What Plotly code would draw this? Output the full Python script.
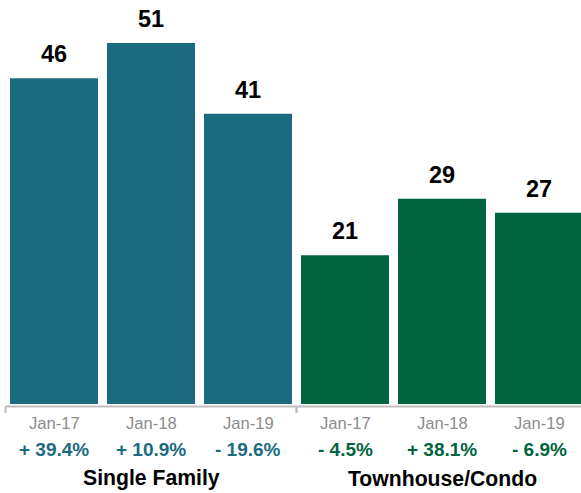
import plotly.graph_objects as go

# Data
groups = ["Single Family", "Townhouse/Condo"]
periods = ["Jan-17", "Jan-18", "Jan-19"]
single_family = [46, 51, 41]
townhouse_condo = [21, 29, 27]
sf_change = ["+ 39.4%", "+ 10.9%", "- 19.6%"]
tc_change = ["- 4.5%", "+ 38.1%", "- 6.9%"]

TEAL = "rgb(26,107,128)"
GREEN = "rgb(0,100,62)"
FONT = "Arial, Liberation Sans, Helvetica, sans-serif"

sf_x = list(range(len(periods)))
tc_x = [i + len(periods) for i in range(len(periods))]

fig = go.Figure()
fig.add_trace(go.Bar(x=sf_x, y=single_family, marker_color=TEAL, width=0.907,
                     marker_line_width=0, hoverinfo="skip"))
fig.add_trace(go.Bar(x=tc_x, y=townhouse_condo, marker_color=GREEN, width=0.907,
                     marker_line_width=0, hoverinfo="skip"))

annotations = []
shapes = []
series = [
    (sf_x, single_family, sf_change, TEAL, groups[0]),
    (tc_x, townhouse_condo, tc_change, GREEN, groups[1]),
]
for xs, vals, chg, col, name in series:
    for x, v, c, p in zip(xs, vals, chg, periods):
        # value above each bar
        annotations.append(dict(x=x, y=v, xref="x", yref="y", text=f"<b>{v}</b>",
                                showarrow=False, yanchor="middle", yshift=24,
                                font=dict(family=FONT, size=23.5, color="black")))
        # period label
        annotations.append(dict(x=x, y=0, xref="x", yref="paper", text=p,
                                showarrow=False, yanchor="middle", yshift=-19,
                                font=dict(family=FONT, size=16.6, color="rgb(140,140,140)")))
        # year-over-year change
        annotations.append(dict(x=x, y=0, xref="x", yref="paper", text=f"<b>{c}</b>",
                                showarrow=False, yanchor="middle", yshift=-45,
                                font=dict(family=FONT, size=19, color=col)))
    # group title under the middle bar
    annotations.append(dict(x=xs[1], y=0, xref="x", yref="paper", text=f"<b>{name}</b>",
                            showarrow=False, yanchor="middle", yshift=-74,
                            font=dict(family=FONT, size=21.2, color="black")))
    # bracket beneath the group
    left, right = xs[0] - 0.5, xs[-1] + 0.5
    line = dict(color="rgb(190,190,190)", width=2)
    shapes.append(dict(type="line", xref="x", yref="paper", x0=left, x1=right,
                       y0=-2.5 / 404, y1=-2.5 / 404, line=line))
    shapes.append(dict(type="line", xref="x", yref="paper", x0=left, x1=left,
                       y0=-2.5 / 404, y1=-9 / 404, line=line))
    shapes.append(dict(type="line", xref="x", yref="paper", x0=right, x1=right,
                       y0=-2.5 / 404, y1=-9 / 404, line=line))

fig.update_layout(
    width=581, height=493,
    margin=dict(l=0, r=0, t=0, b=89),
    plot_bgcolor="white", paper_bgcolor="white",
    showlegend=False,
    xaxis=dict(range=[-54 / 97, -54 / 97 + 581 / 97], visible=False, fixedrange=True),
    yaxis=dict(range=[0, 404 / 7.08], visible=False, fixedrange=True),
    annotations=annotations,
    shapes=shapes,
)

fig.write_html("out.html", config={"displayModeBar": False})
